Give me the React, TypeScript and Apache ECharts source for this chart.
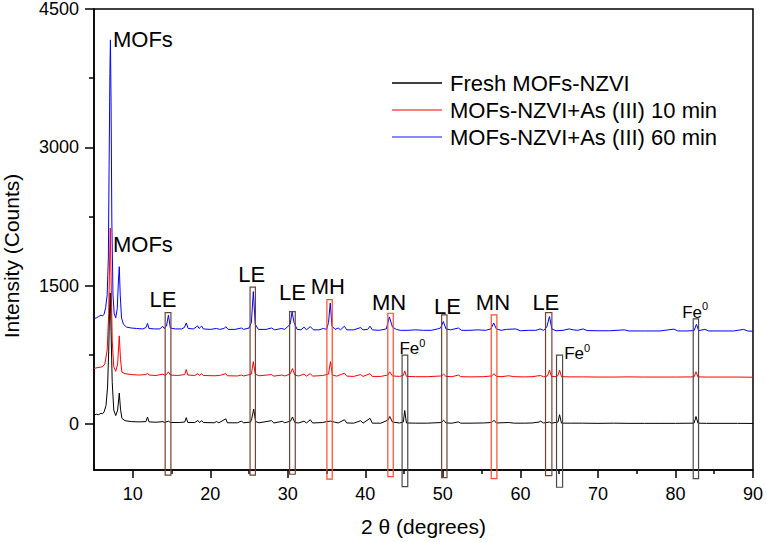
import React, { useEffect, useRef } from "react";
import * as echarts from "echarts";

// 2θ (degrees), intensity (counts)
const fresh: number[][] = [
  [5.0,95],[5.3,105],[5.6,100],[5.9,115],[6.1,110],[6.3,130],[6.55,200],[6.75,400],[6.9,800],[7.0,1200],[7.1,1420],[7.2,1000],[7.35,450],[7.55,150],[7.8,90],[8.05,150],[8.26,335],[8.42,160],[8.6,60],[9.0,35],[9.8,25],[10.8,22],[11.7,25],[11.9,75],[12.1,22],[13.0,18],[13.9,25],[14.1,15],[14.6,30],[14.85,15],[16.0,15],[16.7,20],[16.9,68],[17.1,15],[18.0,15],[18.4,38],[18.6,15],[18.9,35],[19.1,15],[20.5,12],[20.8,25],[21.1,12],[22.0,55],[22.2,12],[23.5,12],[24.0,30],[24.3,12],[25.2,20],[25.35,60],[25.6,160],[25.85,25],[26.3,12],[27.9,35],[28.2,10],[29.3,28],[29.6,12],[30.35,30],[30.6,75],[30.9,15],[31.4,10],[32.1,30],[32.4,10],[32.9,45],[33.2,10],[34.5,15],[35.0,25],[35.5,30],[36.0,20],[36.5,10],[37.3,45],[37.6,10],[38.5,8],[39.4,35],[39.7,8],[40.6,60],[40.9,8],[42.0,8],[42.9,40],[43.15,80],[43.5,20],[44.4,10],[44.9,20],[45.08,145],[45.3,10],[46.5,8],[48,8],[49.8,15],[50.1,40],[50.4,10],[51.2,8],[52.0,22],[52.3,8],[53.5,8],[55.2,10],[56.3,15],[56.6,40],[56.9,10],[57.5,12],[58.5,15],[59.2,8],[60.5,8],[61.5,10],[62.4,20],[62.6,30],[63.0,10],[63.75,20],[64.0,8],[64.85,20],[65.05,100],[65.3,8],[66.5,8],[68,8],[70,6],[72,8],[74,6],[76,6],[78,6],[80,6],[82.4,8],[82.65,80],[82.9,8],[84,6],[86,6],[88,6],[90,5]
];

const min10: number[][] = [
  [5.0,600],[5.4,610],[5.8,615],[6.1,620],[6.4,650],[6.7,800],[6.9,1200],[7.0,1700],[7.1,2125],[7.2,1600],[7.35,900],[7.55,620],[7.8,570],[8.05,650],[8.26,955],[8.42,700],[8.6,560],[9.0,545],[9.8,535],[10.8,530],[11.7,535],[11.9,550],[12.1,530],[13.0,525],[13.9,540],[14.1,528],[14.35,535],[14.6,565],[14.85,530],[15.8,525],[16.7,535],[16.9,590],[17.1,530],[18.0,525],[18.4,545],[18.6,525],[18.9,545],[19.1,525],[20.5,522],[21.2,525],[22.0,545],[22.2,522],[23.5,520],[24.0,530],[24.3,520],[25.3,540],[25.55,675],[25.8,540],[26.3,522],[27.9,535],[28.2,518],[29.2,530],[29.6,520],[30.3,540],[30.6,600],[30.9,530],[31.4,520],[32.1,540],[32.4,518],[32.9,545],[33.2,518],[34.5,525],[35.25,540],[35.5,675],[35.75,530],[36.3,518],[37.3,550],[37.6,518],[38.5,515],[39.4,535],[39.7,515],[40.6,545],[40.9,515],[42.0,515],[42.9,530],[43.15,565],[43.5,520],[44.4,515],[44.9,525],[45.08,575],[45.3,515],[46.5,512],[48,512],[49.8,520],[50.1,540],[50.4,515],[51.2,512],[52.0,530],[52.3,512],[53.5,510],[55.2,512],[56.3,520],[56.6,545],[56.9,515],[57.5,512],[58.5,522],[59.2,512],[60.5,510],[61.5,512],[62.6,525],[63.0,510],[63.5,520],[63.75,585],[64.0,515],[64.6,512],[64.85,525],[65.05,585],[65.3,512],[66.5,510],[68,510],[70,508],[72,508],[74,510],[76,508],[78,508],[80,508],[82.4,510],[82.65,565],[82.9,510],[84,508],[86,508],[88,508],[90,506]
];

const min60: number[][] = [
  [5.0,1140],[5.3,1150],[5.6,1165],[5.9,1180],[6.1,1170],[6.3,1190],[6.5,1260],[6.7,1400],[6.85,1800],[6.95,2800],[7.05,3800],[7.12,4165],[7.2,3500],[7.3,2200],[7.45,1400],[7.6,1200],[7.8,1150],[8.0,1250],[8.15,1550],[8.26,1705],[8.38,1400],[8.55,1150],[8.8,1080],[9.2,1050],[9.8,1040],[10.5,1035],[11.3,1030],[11.7,1045],[11.9,1090],[12.1,1035],[12.8,1030],[13.5,1030],[13.85,1060],[14.05,1035],[14.35,1060],[14.6,1180],[14.85,1040],[15.5,1030],[16.3,1030],[16.65,1045],[16.9,1095],[17.15,1035],[17.8,1030],[18.2,1050],[18.35,1065],[18.55,1035],[18.75,1050],[18.9,1060],[19.1,1030],[20,1025],[20.8,1035],[21.2,1025],[21.8,1035],[22.0,1055],[22.3,1025],[23.2,1025],[24.0,1040],[24.3,1025],[25.0,1040],[25.3,1100],[25.55,1435],[25.8,1080],[26.2,1025],[27.2,1025],[27.9,1040],[28.3,1020],[29.2,1035],[29.6,1025],[30.3,1080],[30.55,1215],[30.8,1100],[31.2,1025],[31.7,1020],[32.1,1050],[32.4,1020],[32.9,1055],[33.3,1020],[34.0,1020],[34.6,1035],[35.0,1025],[35.25,1100],[35.47,1310],[35.7,1060],[36.1,1025],[36.5,1040],[36.8,1020],[37.3,1060],[37.6,1020],[38.5,1020],[39.4,1045],[39.7,1020],[40.3,1025],[40.6,1060],[40.9,1020],[41.8,1015],[42.7,1030],[43.1,1160],[43.5,1050],[44.0,1025],[44.5,1015],[45.5,1015],[46.5,1020],[47.5,1015],[48.5,1015],[49.3,1030],[49.7,1040],[50.06,1110],[50.4,1030],[51.0,1020],[52.0,1040],[52.4,1015],[53.5,1015],[54.5,1020],[55.5,1015],[56.2,1030],[56.55,1095],[56.9,1030],[57.5,1015],[58.2,1025],[59.4,1030],[60.0,1010],[61.0,1015],[62.0,1015],[62.55,1030],[63.0,1015],[63.4,1050],[63.75,1165],[64.05,1030],[64.6,1010],[65.5,1015],[66.3,1030],[66.8,1020],[67.4,1015],[68.1,1030],[68.6,1012],[70,1010],[71.5,1010],[73.4,1020],[74,1008],[76,1008],[78,1008],[79.8,1028],[80.3,1008],[81.5,1008],[82.4,1012],[82.7,1080],[83.0,1012],[83.8,1025],[84.3,1008],[86,1008],[87.5,1008],[88.8,1025],[89.3,1008],[90,1005]
];

const seriesNames = ["Fresh MOFs-NZVI", "MOFs-NZVI+As (III) 10 min", "MOFs-NZVI+As (III) 60 min"];
const seriesColors = ["#000000", "#ff0000", "#0000ff"];
const legendColors = ["#000000", "#ff5050", "#6060ff"];

const xLabelTicks = [10, 20, 30, 40, 50, 60, 70, 80, 90];
const xMinorTicks = [15, 25, 35, 45, 55, 65, 75, 85];
const yLabelTicks = [0, 1500, 3000, 4500];
const yMinorTicks = [750, 2250, 3750];

// phase boxes: x from, x to, top, bottom, kind
const boxX1 = [14.18, 25.13, 30.23, 35.04, 42.9, 44.74, 49.84, 56.24, 63.24, 64.66, 82.29];
const boxX2 = [14.92, 25.82, 30.96, 35.73, 43.6, 45.47, 50.53, 56.97, 64.06, 65.44, 82.98];
const boxTop = [1207, 1483, 1218, 1348, 1200, 745, 1182, 1182, 1207, 745, 1139];
const boxBottom = [-556, -556, -546, -600, -572, -680, -582, -593, -561, -687, -593];
const boxKind = ["LE", "LE", "LE", "MH", "MN", "Fe", "LE", "MN", "LE", "Fe", "Fe"];
const boxColors: Record<string, string> = { LE: "#6e4535", MH: "#ff4a2a", MN: "#ff4a2a", Fe: "#4a4a4a" };

// annotation labels
const labelText = ["MOFs", "MOFs", "LE", "LE", "LE", "MH", "MN", "LE", "MN", "LE", "Fe0", "Fe0", "Fe0"];
const labelX = [7.45, 7.45, 13.88, 25.35, 30.6, 35.17, 43.07, 50.6, 56.46, 63.28, 44.4, 65.64, 80.87];
const labelY = [4165, 1941, 1350, 1616, 1421, 1486, 1312, 1275, 1312, 1312, 830, 775, 1226];
const labelAlign = ["left", "left", "center", "center", "center", "center", "center", "center", "center", "center", "left", "left", "left"];

const FONT = "Liberation Sans";
const X_MIN = 5;

export default function App() {
  const ref = useRef<HTMLDivElement>(null);
  useEffect(() => {
    document.body.style.margin = "0";
    const chart = echarts.init(ref.current!, null, { renderer: "svg" });
    const lineSeries = [2, 1, 0].map((i) => ({
      type: "line",
      name: seriesNames[i],
      data: [fresh, min10, min60][i],
      xAxisIndex: 0,
      yAxisIndex: 0,
      symbol: "none",
      showSymbol: false,
      lineStyle: { width: 1, color: seriesColors[i] },
      itemStyle: { color: seriesColors[i] },
      z: 2 + (2 - i),
    }));
    const option: any = {
      animation: false,
      textStyle: { fontFamily: FONT },
      grid: { left: 94, right: 12, top: 9, bottom: 72, show: true, borderColor: "#000", borderWidth: 1.5, backgroundColor: "transparent" },
      legend: {
        data: seriesNames.map((n, i) => ({ name: n, itemStyle: { color: legendColors[i] } })),
        orient: "vertical",
        left: 392,
        top: 72,
        padding: 0,
        icon: "rect",
        itemWidth: 50,
        itemHeight: 1.5,
        itemGap: 5,
        textStyle: { fontSize: 22, lineHeight: 22, color: "#000", fontFamily: FONT, padding: [0, 0, 0, 3] },
      },
      xAxis: [
        {
          type: "value", min: X_MIN, max: 90, position: "bottom",
          axisLine: { show: true, onZero: false, lineStyle: { color: "#000", width: 1.5 } },
          axisTick: { show: true, customValues: xLabelTicks, length: 8, lineStyle: { color: "#000", width: 1.5 } },
          axisLabel: { customValues: xLabelTicks, fontSize: 18, color: "#000", margin: 15, fontFamily: FONT, formatter: (v: number) => String(v) },
          splitLine: { show: false },
          name: "2 θ (degrees)", nameLocation: "middle", nameGap: 46,
          nameTextStyle: { fontSize: 21, color: "#000", fontFamily: FONT },
        },
        {
          type: "value", min: X_MIN, max: 90, position: "bottom",
          axisLine: { show: false, onZero: false },
          axisTick: { show: true, customValues: xMinorTicks, length: 4, lineStyle: { color: "#000", width: 1.5 } },
          axisLabel: { show: false },
          splitLine: { show: false },
        },
      ],
      yAxis: [
        {
          type: "value", min: -500, max: 4500, position: "left",
          axisLine: { show: true, onZero: false, lineStyle: { color: "#000", width: 1.5 } },
          axisTick: { show: true, customValues: yLabelTicks, length: 9, lineStyle: { color: "#000", width: 1.5 } },
          axisLabel: { show: false },
          splitLine: { show: false },
        },
        {
          type: "value", min: -500, max: 4500, position: "left",
          axisLine: { show: false, onZero: false },
          axisTick: { show: true, customValues: yMinorTicks, length: 5, lineStyle: { color: "#000", width: 1.5 } },
          axisLabel: { show: false },
          splitLine: { show: false },
        },
      ],
      graphic: [
        {
          type: "text", x: 11, y: 256, rotation: Math.PI / 2,
          style: { text: "Intensity (Counts)", fontSize: 21, fill: "#000", align: "center", verticalAlign: "middle", fontFamily: FONT },
        },
      ],
      series: [
        ...lineSeries,
        {
          type: "custom",
          name: "yTickLabels",
          clip: false,
          silent: true,
          xAxisIndex: 0,
          yAxisIndex: 0,
          z: 8,
          data: yLabelTicks.map((v) => [X_MIN, v]),
          renderItem: (params: any, api: any) => {
            const p = api.coord([api.value(0), api.value(1)]);
            return {
              type: "text", x: p[0] - 15, y: p[1],
              style: { text: String(api.value(1)), fontSize: 18, fill: "#000", align: "right", verticalAlign: "middle", fontFamily: FONT },
            };
          },
        },
        {
          type: "custom",
          name: "boxes",
          clip: false,
          silent: true,
          xAxisIndex: 0,
          yAxisIndex: 0,
          z: 6,
          data: boxX1.map((x, i) => [x, boxTop[i], boxX2[i], boxBottom[i], i]),
          renderItem: (params: any, api: any) => {
            const i = api.value(4);
            const a = api.coord([api.value(0), api.value(1)]);
            const b = api.coord([api.value(2), api.value(3)]);
            return {
              type: "rect",
              shape: { x: a[0], y: a[1], width: b[0] - a[0], height: b[1] - a[1] },
              style: { fill: "none", stroke: boxColors[boxKind[i]], lineWidth: 1.2 },
            };
          },
        },
        {
          type: "custom",
          name: "labels",
          clip: false,
          silent: true,
          xAxisIndex: 0,
          yAxisIndex: 0,
          z: 7,
          data: labelX.map((x, i) => [x, labelY[i], i]),
          renderItem: (params: any, api: any) => {
            const i = api.value(2);
            const p = api.coord([api.value(0), api.value(1)]);
            const t = labelText[i];
            if (t === "Fe0") {
              return {
                type: "text", x: p[0], y: p[1],
                style: {
                  text: "{n|Fe}{s|0}",
                  align: labelAlign[i], verticalAlign: "middle",
                  rich: {
                    n: { fontSize: 17, fill: "#000", fontFamily: FONT, lineHeight: 20, verticalAlign: "bottom" },
                    s: { fontSize: 11, fill: "#000", fontFamily: FONT, lineHeight: 20, verticalAlign: "top" },
                  },
                },
              };
            }
            return {
              type: "text", x: p[0], y: p[1],
              style: { text: t, fontSize: 22, fill: "#000", align: labelAlign[i], verticalAlign: "middle", fontFamily: FONT },
            };
          },
        },
      ],
    };
    chart.setOption(option);
    return () => chart.dispose();
  }, []);
  return <div ref={ref} style={{ width: 766, height: 542 }} />;
}
